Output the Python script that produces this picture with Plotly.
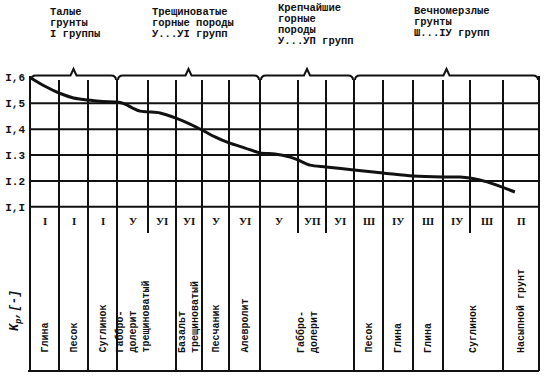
import numpy as np
import plotly.graph_objects as go

# ---------------- data ----------------
group_titles = [
    ["Талые", "грунты", "I группы"],
    ["Трещиноватые", "горные породы", "У...УI групп"],
    ["Крепчайшие", "горные", "породы", "У...УП групп"],
    ["Вечномерзлые", "грунты", "Ш...IУ групп"],
]
group_sizes = [3, 5, 3, 6]
column_groups = ["I", "I", "I", "У", "УI", "УI", "У", "УI",
                 "У", "УП", "УI", "Ш", "IУ", "Ш", "IУ", "Ш", "П"]
soil_names = [["Глина"], ["Песок"], ["Суглинок"],
              ["Габбро-", "долерит", "трещиноватый"],
              ["Базальт", "трещиноватый"], ["Песчаник"], ["Алевролит"],
              ["Габбро-", "долерит"], ["Песок"], ["Глина"], ["Глина"],
              ["Суглинок"], ["Насыпной грунт"]]
soil_spans = [1, 1, 1, 2, 1, 1, 1, 3, 1, 1, 1, 2, 1]
# position along the table in column units, and Kp value
curve_pos = [0, 0.5, 1, 1.5, 2, 2.5, 3, 3.26, 3.5, 3.74, 4, 4.43, 5, 5.54, 6,
             6.48, 7, 7.52, 8, 8.39, 8.79, 9, 9.43, 10, 11, 12, 13, 14, 14.63,
             15, 15.52, 16.33]
curve_kp = [1.600, 1.567, 1.540, 1.521, 1.513, 1.507, 1.505, 1.497, 1.482,
            1.470, 1.467, 1.463, 1.443, 1.420, 1.397, 1.370, 1.347, 1.327,
            1.308, 1.304, 1.292, 1.281, 1.261, 1.254, 1.242, 1.231, 1.219,
            1.215, 1.215, 1.211, 1.196, 1.157]
y_ticks = [1.1, 1.2, 1.3, 1.4, 1.5, 1.6]
y_tick_text = ["I,I", "I.2", "I.3", "I,4", "I,5", "I,6"]
y_title = "K<sub>p</sub>,[-]"

# ---------------- layout constants ----------------
W, H = 554, 379
COL_EDGES = [30, 59, 88, 117, 148, 176, 202, 229, 260, 298, 326, 354, 383,
             413, 443, 470, 503, 539]
ML, MR, MT, MB = 28, 13, 50, 5
Y16_PX, PX_PER_UNIT = 77.5, 258.5
FONT = "Liberation Mono, Courier New, monospace"
SERIF = "Liberation Serif, DejaVu Serif, serif"
INK = "#111111"


def val(ypx):
    return 1.6 - (ypx - Y16_PX) / PX_PER_UNIT


def px_paper_x(xpx):
    return (xpx - ML) / (W - ML - MR)


def px_paper_y(ypx):
    return (H - MB - ypx) / (H - MT - MB)


x_range = [ML, W - MR]
y_range = [val(H - MB), val(MT)]
cols = np.arange(len(COL_EDGES))
curve_x = np.interp(curve_pos, cols, COL_EDGES)

fig = go.Figure()
fig.add_trace(go.Scatter(
    x=curve_x, y=curve_kp, mode="lines",
    line=dict(color=INK, width=3, shape="spline", smoothing=0.8),
    hoverinfo="skip", showlegend=False))

shapes = []
line = dict(color=INK, width=2)
y_bot = val(371)
y_top = val(80)
y_part = val(233)
# horizontal grid lines
for t in y_ticks[:-1]:
    shapes.append(dict(type="line", xref="x", yref="y", x0=COL_EDGES[0],
                       x1=COL_EDGES[-1], y0=t, y1=t, line=line))
shapes.append(dict(type="line", xref="x", yref="y", x0=COL_EDGES[0] - 3,
                   x1=COL_EDGES[-1], y0=y_bot, y1=y_bot, line=line))
# vertical lines
full_edges = set(np.cumsum([0] + soil_spans).tolist())
for i, xe in enumerate(COL_EDGES):
    y0 = y_bot if i in full_edges else y_part
    shapes.append(dict(type="line", xref="x", yref="y", x0=xe, x1=xe,
                       y0=y0, y1=y_top if 0 < i < len(COL_EDGES) - 1 else val(76),
                       line=line))
# braces over the groups
gb = np.cumsum([0] + group_sizes)
yb, yp, yh = val(75.5), val(69), val(80)
for a, b in zip(gb[:-1], gb[1:]):
    x0, x1 = COL_EDGES[a] + 1, COL_EDGES[b] - 1
    xc = (x0 + x1) / 2
    path = (f"M {x0},{yh} Q {x0},{yb} {x0 + 5},{yb} L {xc - 3},{yb} "
            f"L {xc},{yp} L {xc + 3},{yb} L {x1 - 5},{yb} "
            f"Q {x1},{yb} {x1},{yh}")
    shapes.append(dict(type="path", xref="x", yref="y", path=path,
                       line=dict(color=INK, width=2)))

ann = []
# group numerals row
for i, g in enumerate(column_groups):
    xc = (COL_EDGES[i] + COL_EDGES[i + 1]) / 2
    ann.append(dict(x=xc, y=val(221), xref="x", yref="y", text=g,
                    showarrow=False, xanchor="center", yanchor="middle",
                    font=dict(family=SERIF, size=11, color=INK,
                              weight="bold")))
# soil names (rotated)
start = 0
for k, (nm, sp) in enumerate(zip(soil_names, soil_spans)):
    if len(nm) == 3:
        xc = (COL_EDGES[start] + COL_EDGES[start + 1]) / 2
    else:
        xc = (COL_EDGES[start] + COL_EDGES[start + sp]) / 2
    ann.append(dict(x=xc, y=val(355), xref="x", yref="y",
                    text="<br>".join(nm), textangle=-90, align="left",
                    xanchor="center", yanchor="bottom", showarrow=False,
                    font=dict(family=FONT, size=10, color=INK, weight="bold")))
    start += sp
# group titles above (multi-line blocks, tight line spacing)
title_left = [48, 150, 276, 412]
title_center_y = [23, 23, 24, 22.5]
for tl, xl, yc in zip(group_titles, title_left, title_center_y):
    txt = "<br>".join(f"<span style='font-size:10.5px'>{s}</span>"
                      for s in tl)
    ann.append(dict(x=px_paper_x(xl), y=px_paper_y(yc), xref="paper",
                    yref="paper", text=txt, xanchor="left",
                    yanchor="middle", align="left", showarrow=False,
                    font=dict(family=FONT, size=8.5, color=INK,
                              weight="bold")))
# y axis title
ann.append(dict(x=px_paper_x(16), y=px_paper_y(311), xref="paper",
                yref="paper", text=y_title, textangle=-90, showarrow=False,
                xanchor="center", yanchor="middle",
                font=dict(family=FONT, size=12, color=INK, weight="bold",
                          style="italic")))

fig.update_layout(
    width=W, height=H, margin=dict(l=ML, r=MR, t=MT, b=MB),
    paper_bgcolor="white", plot_bgcolor="white",
    xaxis=dict(range=x_range, showgrid=False, zeroline=False, automargin=False,
               showticklabels=False, ticks="", showline=False, fixedrange=True),
    yaxis=dict(range=y_range, showgrid=False, zeroline=False, automargin=False,
               tickvals=y_ticks, ticktext=y_tick_text, ticks="",
               ticklabelstandoff=2, showline=False, fixedrange=True,
               tickfont=dict(family=FONT, size=11, color=INK, weight="bold")),
    shapes=shapes, annotations=ann, showlegend=False,
)

fig.write_html("out.html", config={"displayModeBar": False},
               post_script="document.body.style.margin='0px';"
                           "document.body.style.padding='0px';")
